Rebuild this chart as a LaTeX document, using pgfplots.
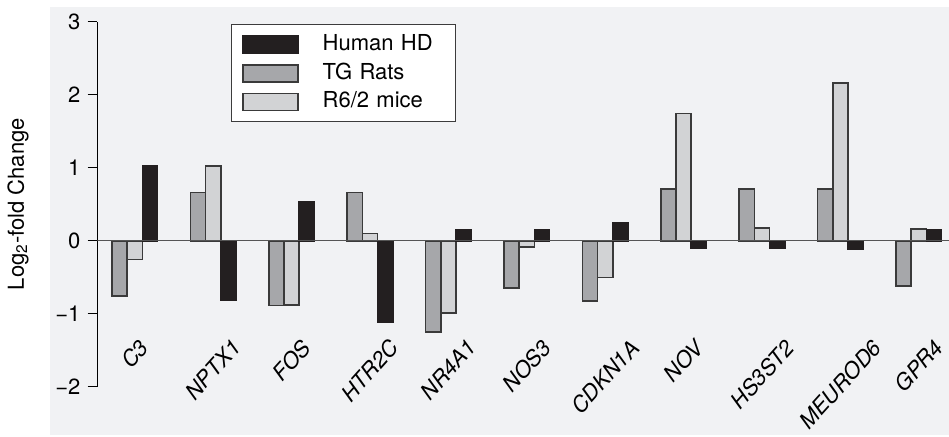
\documentclass[border=0pt]{standalone}
\usepackage{pgfplots}
\pgfplotsset{compat=1.18}
\usepackage{fontspec}
\setmainfont{TeX Gyre Heros}
\definecolor{bg}{HTML}{F1F2F4}
\definecolor{hd}{HTML}{231F20}
\definecolor{tg}{HTML}{A6A7AA}
\definecolor{rm}{HTML}{D2D3D5}
\definecolor{edge}{HTML}{3A3A3A}
\definecolor{zline}{HTML}{555555}
\begin{document}
\begin{tikzpicture}[font=\fontsize{11}{13}\selectfont]
\fill[white] (0,0) rectangle (474.5pt,218pt);
\fill[bg] (25pt,0.5pt) rectangle (474.5pt,214.5pt);
\begin{axis}[
  at={(48.75pt,24.65pt)}, anchor=south west,
  scale only axis, width=425.75pt, height=182.5pt,
  xmin=-0.4745, xmax=10.386, ymin=-2, ymax=3,
  axis lines*=left, axis line style={-}, x axis line style={draw=none},
  y axis line style={line width=0.75pt, black},
  xtick={0,...,10}, xtick style={draw=none},
  xticklabels={\rotatebox{48}{\itshape C3},\rotatebox{48}{\itshape NPTX1},\rotatebox{48}{\itshape FOS},\rotatebox{48}{\itshape HTR2C},\rotatebox{48}{\itshape NR4A1},\rotatebox{48}{\itshape NOS3},\rotatebox{48}{\itshape CDKN1A},\rotatebox{48}{\itshape NOV},\rotatebox{48}{\itshape HS3ST2},\rotatebox{48}{\itshape MEUROD6},\rotatebox{48}{\itshape GPR4}},
  xticklabel style={anchor=north, inner sep=0pt, yshift=29.5pt},
  ytick={-2,-1,0,1,2,3}, yticklabels={−2,−1,0,1,2,3},
  ytick style={line width=0.75pt, black}, tick align=outside, major tick length=5pt,
  ylabel={Log\textsubscript{2}-fold Change},
  ylabel style={at={(axis description cs:-0.0934,0.5)}, anchor=center},
  legend image code/.code={\draw[#1] (0pt,-4.25pt) rectangle (27.35pt,4.25pt);},
  legend style={at={(axis description cs:0.1564,0.9937)}, anchor=north west,
    draw={rgb,255:red,60;green,60;blue,60}, line width=0.7pt, fill=white,
    inner xsep=5.5pt, inner ysep=2.8pt, column sep=7pt, row sep=0pt,
    nodes={inner xsep=5pt, inner ysep=2.2pt, text height=7.9pt, text depth=2pt, text width=56pt, align=left}},
  legend cell align=left,
]
\addplot[ybar, bar width=7.6pt, bar shift=-7.6pt, fill=tg, draw=edge, line width=0.8pt, forget plot]
 coordinates {(0,-0.755) (1,0.66) (2,-0.89) (3,0.66) (4,-1.25) (5,-0.65) (6,-0.83) (7,0.71) (8,0.71) (9,0.71) (10,-0.62)};
\addplot[ybar, bar width=7.6pt, bar shift=0pt, fill=rm, draw=edge, line width=0.8pt, forget plot]
 coordinates {(0,-0.26) (1,1.02) (2,-0.88) (3,0.10) (4,-0.99) (5,-0.09) (6,-0.505) (7,1.74) (8,0.17) (9,2.16) (10,0.16)};
\addplot[ybar, bar width=7.6pt, bar shift=7.6pt, fill=hd, draw=hd, line width=0.8pt, forget plot]
 coordinates {(0,1.02) (1,-0.82) (2,0.53) (3,-1.12) (4,0.15) (5,0.15) (6,0.25) (7,-0.10) (8,-0.10) (9,-0.11) (10,0.15)};
\draw[line width=0.7pt, zline] (axis cs:-0.4745,0) -- (axis cs:10.386,0);
\addlegendimage{fill=hd, draw=hd, line width=0.8pt}
\addlegendentry{Human HD}
\addlegendimage{fill=tg, draw=edge, line width=0.8pt}
\addlegendentry{TG Rats}
\addlegendimage{fill=rm, draw=edge, line width=0.8pt}
\addlegendentry{R6/2 mice}
\end{axis}
\pgfresetboundingbox
\path (0,0) rectangle (474.5pt,218pt);
\end{tikzpicture}
\end{document}
